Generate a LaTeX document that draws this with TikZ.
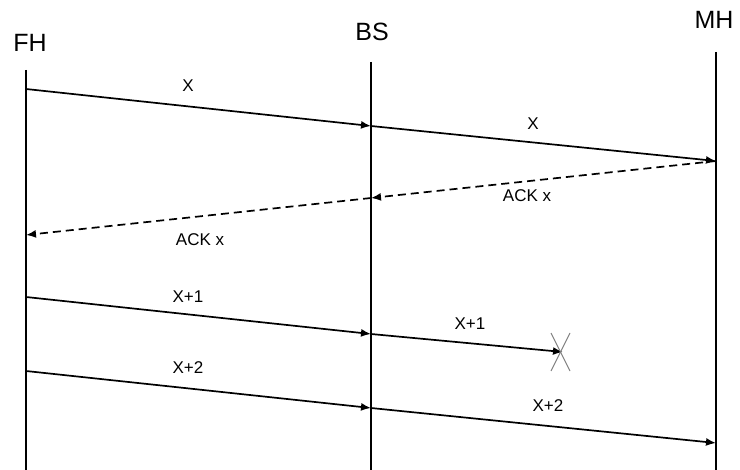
\documentclass[tikz,border=0pt]{standalone}
\usepackage{fontspec}
\setmainfont{Liberation Sans}
\usetikzlibrary{arrows.meta}
\begin{document}
\begin{tikzpicture}[x=1pt,y=-1pt,
  head/.style={inner sep=0pt,font=\fontsize{25}{25}\selectfont},
  lbl/.style={inner sep=0pt,font=\fontsize{17}{17}\selectfont},
  life/.style={line width=2.6pt},
  msg/.style={line width=1.7pt,-{Latex[length=10pt,width=8pt]}},
  ack/.style={msg,dash pattern=on 8pt off 5pt},
  lost/.style={line width=1.1pt,draw=gray}]
\useasboundingbox (0,0) rectangle (740,470);
% heads
\node[head] (FH) at (30,43) {FH};
\node[head] (BS) at (372,32) {BS};
\node[head] (MH) at (714,20) {MH};
% lifelines
\coordinate (FHt) at (26,70);  \coordinate (FHb) at (26,472);
\coordinate (BSt) at (371,62); \coordinate (BSb) at (371,472);
\coordinate (MHt) at (716,52); \coordinate (MHb) at (716,472);
\draw[life] (FHt) -- (FHb);
\draw[life] (BSt) -- (BSb);
\draw[life] (MHt) -- (MHb);
% message points
\coordinate (f1) at (26,89);   \coordinate (b1) at (371,126); \coordinate (m1) at (716,161);
\coordinate (b2) at (371,198); \coordinate (f2) at (26,235);
\coordinate (f3) at (26,297);  \coordinate (b3) at (371,334); \coordinate (loss) at (563,352);
\coordinate (f4) at (26,371);  \coordinate (b4) at (371,408); \coordinate (m4) at (716,443);
% messages
\draw[msg] (f1) -- (b1);
\draw[msg] (b1) -- (m1);
\draw[ack] (m1) -- (b2);
\draw[ack] (b2) -- (f2);
\draw[msg] (f3) -- (b3);
\draw[msg] (b3) -- (loss);
\draw[msg] (f4) -- (b4);
\draw[msg] (b4) -- (m4);
% lost mark
\coordinate (xa) at (551,333); \coordinate (xb) at (570,371);
\coordinate (xc) at (570,333); \coordinate (xd) at (551,371);
\draw[lost] (xa) -- (xb);
\draw[lost] (xc) -- (xd);
% labels
\node[lbl] (l1) at (188,86) {X};
\node[lbl] (l2) at (533,124) {X};
\node[lbl] (l3) at (527,196) {ACK x};
\node[lbl] (l4) at (200,240) {ACK x};
\node[lbl] (l5) at (188,297) {X+1};
\node[lbl] (l6) at (470,324) {X+1};
\node[lbl] (l7) at (188,368) {X+2};
\node[lbl] (l8) at (548,406) {X+2};
\end{tikzpicture}
\end{document}
